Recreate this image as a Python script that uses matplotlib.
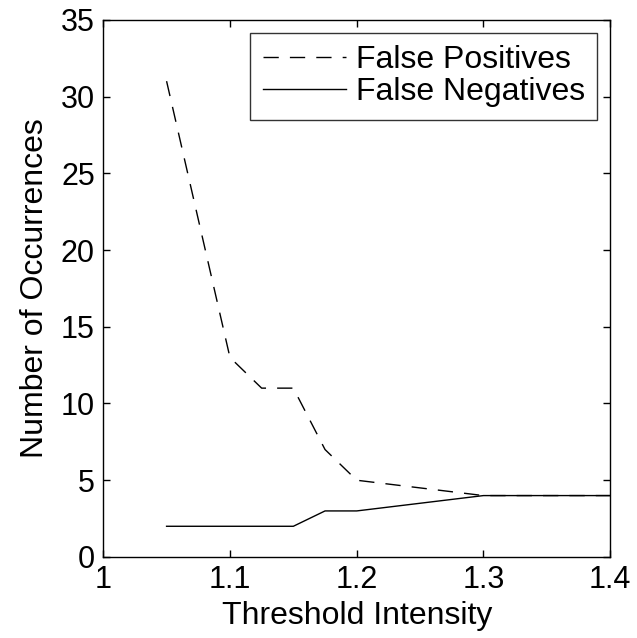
import matplotlib
matplotlib.use('Agg')
import matplotlib.pyplot as plt

# Threshold values and occurrence counts
fp_threshold = [1.05, 1.1, 1.125, 1.15, 1.175, 1.2, 1.25, 1.3, 1.35, 1.4]
false_positives = [31, 13, 11, 11, 7, 5, 4.5, 4, 4, 4]

fn_threshold = [1.05, 1.1, 1.15, 1.175, 1.2, 1.25, 1.3, 1.35, 1.4]
false_negatives = [2, 2, 2, 3, 3, 3.5, 4, 4, 4]

plt.rcParams['font.family'] = ['Liberation Sans', 'DejaVu Sans']

fig = plt.figure(figsize=(6.37, 6.38), dpi=100)
ax = fig.add_axes([0.162, 0.127, 0.796, 0.842])

ax.plot(fp_threshold, false_positives, color='black', linestyle=(0, (11, 8)),
        linewidth=1.0, label='False Positives')
ax.plot(fn_threshold, false_negatives, color='black', linestyle='-',
        linewidth=1.0, label='False Negatives')

ax.set_xlim(1, 1.4)
ax.set_ylim(0, 35)
ax.set_xticks([1, 1.1, 1.2, 1.3, 1.4])
ax.set_xticklabels(['1', '1.1', '1.2', '1.3', '1.4'])
ax.set_yticks(range(0, 36, 5))

ax.tick_params(direction='in', top=True, right=True, labelsize=22,
               length=5, width=1.0, pad=6)
for s in ax.spines.values():
    s.set_linewidth(1.0)

ax.set_xlabel('Threshold Intensity', fontsize=23, labelpad=4)
ax.set_ylabel('Number of Occurrences', fontsize=23, labelpad=8)

leg = ax.legend(loc='upper right', fontsize=23, frameon=True, fancybox=False,
                edgecolor='black', handlelength=2.6, handletextpad=0.3,
                borderaxespad=0.4, labelspacing=0.05, borderpad=0.4)
leg.get_frame().set_linewidth(1.0)

fig.savefig('out.png', dpi=100)
